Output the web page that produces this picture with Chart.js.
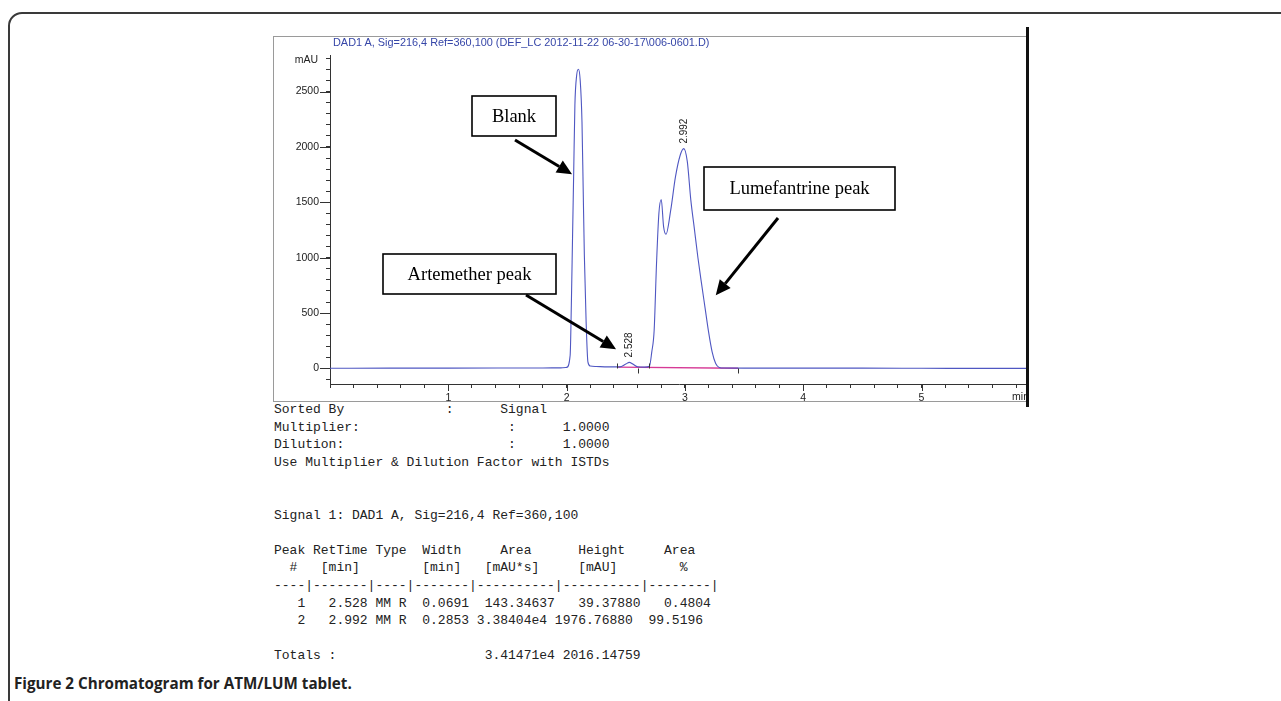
<!DOCTYPE html>
<html>
<head>
<meta charset="utf-8">
<title>Chromatogram for ATM/LUM tablet</title>
<script src="https://cdn.jsdelivr.net/npm/chart.js@4.4.1/dist/chart.umd.min.js"></script>
<style>
  html, body { margin: 0; padding: 0; background: #fff; }
  body { width: 1281px; height: 701px; position: relative; overflow: hidden; }
  #frame {
    position: absolute; left: 8px; top: 12px; width: 1300px; height: 720px;
    border: 2px solid #3a3a3a; border-radius: 14px;
  }
  #plotBox {
    position: absolute; left: 273px; top: 36px; width: 754px; height: 364px;
    border: 1px solid #9a9a9a; border-right: none;
  }
  #rightBar { position: absolute; left: 1026px; top: 27px; width: 3px; height: 380px; background: #111; }
  #plotTitle {
    position: absolute; left: 333px; top: 36px;
    font: 10.9px "Liberation Sans", Arial, sans-serif; color: #3646a8; white-space: nowrap;
  }
  #chromCanvas { position: absolute; left: 274px; top: 36px; }
  #report {
    position: absolute; left: 274px; top: 401px; margin: 0;
    font: 13px/17.6px "Liberation Mono", "Courier New", monospace; color: #222;
  }
  #caption {
    position: absolute; left: 14px; top: 673px;
    font: 700 15.2px "Open Sans", "Noto Sans", sans-serif; color: #222; white-space: nowrap;
  }
</style>
</head>
<body>
<div id="frame"></div>
<div id="plotBox"></div>
<canvas id="chromCanvas" width="754" height="365"></canvas>
<div id="plotTitle">DAD1 A, Sig=216,4 Ref=360,100 (DEF_LC 2012-11-22 06-30-17\006-0601.D)</div>
<div id="rightBar"></div>
<pre id="report">Sorted By             :      Signal
Multiplier:                   :      1.0000
Dilution:                     :      1.0000
Use Multiplier &amp; Dilution Factor with ISTDs


Signal 1: DAD1 A, Sig=216,4 Ref=360,100

Peak RetTime Type  Width     Area      Height     Area
  #   [min]        [min]   [mAU*s]     [mAU]        %
----|-------|----|-------|----------|----------|--------|
   1   2.528 MM R  0.0691  143.34637   39.37880   0.4804
   2   2.992 MM R  0.2853 3.38404e4 1976.76880  99.5196

Totals :                   3.41471e4 2016.14759</pre>
<div id="caption">Figure 2 Chromatogram for ATM/LUM tablet.</div>

<script>
// Сигнал детектора DAD1 A (время удерживания, мин / поглощение, mAU)
const retTime = [0, 0.5, 1.0, 1.5, 1.8, 1.95, 2.00, 2.03, 2.04, 2.05, 2.06, 2.07, 2.085, 2.10, 2.115,
                 2.13, 2.14, 2.15, 2.165, 2.18, 2.20, 2.25, 2.35, 2.45, 2.50, 2.53, 2.56, 2.60, 2.66,
                 2.70, 2.72, 2.74, 2.76, 2.78, 2.80, 2.82, 2.84, 2.88, 2.92, 2.96, 2.99, 3.02, 3.05,
                 3.08, 3.11, 3.14, 3.17, 3.20, 3.23, 3.26, 3.29, 3.33, 3.5, 4.0, 4.5, 5.0, 5.5, 5.9];
const absorbance = [2, 3, 3, 4, 5, 6, 10, 120, 571, 1176, 1775, 2376, 2647, 2701, 2600,
                    2226, 1624, 1022, 420, 60, 22, 18, 15, 15, 40, 55, 40, 15, 12,
                    20, 150, 345, 947, 1399, 1525, 1278, 1212, 1429, 1729, 1925, 1985, 1870, 1520,
                    1260, 1000, 770, 550, 330, 150, 45, 10, 4, 3, 3, 3, 2, 1, 1];

// Базовая линия интегрирования (розовая)
const baselineTime = [2.43, 3.45];
const baselineValue = [12, 2];
const integrationMarks = [2.43, 2.60, 2.70, 3.45];

// Подписи пиков
const peakTimes = [2.528, 2.992];
const peakHeights = [55, 1985];
const peakLabels = ['2.528', '2.992'];

// Рамки с пояснениями: прямоугольник в пикселях холста, острие стрелки в данных
const callouts = [
    { text: 'Blank', box: [198, 60, 84, 40], tail: [241, 104], tipTime: 2.046, tipValue: 1754 },
    { text: 'Artemether peak', box: [109, 218, 173, 40], tail: [252, 259], tipTime: 2.418, tipValue: 174 },
    { text: 'Lumefantrine peak', box: [430, 131, 191, 43], tail: [504, 182], tipTime: 3.261, tipValue: 661 }
];

const lineColor = '#4f57c2';

const chromPlugin = {
    id: 'chromPlugin',
    afterDraw(chart) {
        const { ctx, chartArea, scales: { x, y } } = chart;
        ctx.save();

        // Длинные засечки на основных делениях
        ctx.strokeStyle = '#333';
        ctx.lineWidth = 1;
        ctx.beginPath();
        for (let v = 0; v <= 2500; v += 500) {
            const py = Math.round(y.getPixelForValue(v)) + 0.5;
            ctx.moveTo(chartArea.left - 10, py);
            ctx.lineTo(chartArea.left, py);
        }
        for (let t = 1; t <= 5; t++) {
            const px = Math.round(x.getPixelForValue(t)) + 0.5;
            ctx.moveTo(px, chartArea.bottom);
            ctx.lineTo(px, chartArea.bottom + 7);
        }
        ctx.stroke();

        // Подписи осей
        ctx.fillStyle = '#222';
        ctx.font = '10.5px "Liberation Sans", Arial, sans-serif';
        ctx.textAlign = 'right';
        ctx.textBaseline = 'middle';
        ctx.fillText('mAU', chartArea.left - 12, chartArea.top + 5);
        ctx.fillText('min', chartArea.right + 1, chartArea.bottom + 13);

        // Метки интегрирования
        ctx.strokeStyle = '#333';
        ctx.beginPath();
        integrationMarks.forEach((t, i) => {
            const px = Math.round(x.getPixelForValue(t)) + 0.5;
            const py = y.getPixelForValue(0);
            const dir = i % 2 === 0 ? -1 : 1;
            ctx.moveTo(px, py);
            ctx.lineTo(px, py + dir * 5);
        });
        ctx.stroke();

        // Вертикальные подписи пиков
        ctx.fillStyle = '#222';
        ctx.font = '10px "Liberation Sans", Arial, sans-serif';
        ctx.textAlign = 'left';
        ctx.textBaseline = 'middle';
        peakTimes.forEach((t, i) => {
            const px = x.getPixelForValue(t);
            const py = y.getPixelForValue(peakHeights[i]) - 5;
            ctx.save();
            ctx.translate(px, py);
            ctx.rotate(-Math.PI / 2);
            ctx.fillText(peakLabels[i], 0, 0);
            ctx.restore();
        });

        // Рамки и стрелки
        callouts.forEach(c => {
            const [bx, by, bw, bh] = c.box;
            ctx.fillStyle = '#fff';
            ctx.fillRect(bx, by, bw, bh);
            ctx.strokeStyle = '#000';
            ctx.lineWidth = 1.6;
            ctx.strokeRect(bx, by, bw, bh);
            ctx.fillStyle = '#000';
            ctx.font = '18.5px "Liberation Serif", "Times New Roman", serif';
            ctx.textAlign = 'center';
            ctx.textBaseline = 'middle';
            ctx.fillText(c.text, bx + bw / 2, by + bh / 2 + 1);

            const tx = x.getPixelForValue(c.tipTime);
            const ty = y.getPixelForValue(c.tipValue);
            const [sx, sy] = c.tail;
            const ang = Math.atan2(ty - sy, tx - sx);
            const headLen = 15, headHalf = 7;
            const bxEnd = tx - Math.cos(ang) * headLen;
            const byEnd = ty - Math.sin(ang) * headLen;
            ctx.lineWidth = 3;
            ctx.beginPath();
            ctx.moveTo(sx, sy);
            ctx.lineTo(bxEnd, byEnd);
            ctx.stroke();
            ctx.beginPath();
            ctx.moveTo(tx, ty);
            ctx.lineTo(bxEnd + Math.sin(ang) * headHalf, byEnd - Math.cos(ang) * headHalf);
            ctx.lineTo(bxEnd - Math.sin(ang) * headHalf, byEnd + Math.cos(ang) * headHalf);
            ctx.closePath();
            ctx.fill();
        });

        ctx.restore();
    }
};

const ctx = document.getElementById('chromCanvas').getContext('2d');
const chromChart = new Chart(ctx, {
    type: 'line',
    data: {
        datasets: [{
            label: 'DAD1 A',
            data: retTime.map((t, i) => ({ x: t, y: absorbance[i] })),
            borderColor: lineColor,
            borderWidth: 1.1,
            pointRadius: 0,
            cubicInterpolationMode: 'monotone',
            fill: false
        }, {
            label: 'Baseline',
            data: baselineTime.map((t, i) => ({ x: t, y: baselineValue[i] })),
            borderColor: '#d63a96',
            borderWidth: 1.4,
            pointRadius: 0,
            fill: false
        }]
    },
    options: {
        responsive: false,
        animation: false,
        layout: { padding: { top: 19, left: 0, right: 0, bottom: 0 } },
        plugins: {
            legend: { display: false },
            tooltip: { enabled: false }
        },
        scales: {
            x: {
                type: 'linear',
                min: 0,
                max: 5.9,
                afterFit: s => { s.height = 17; },
                border: { display: true, color: '#333', width: 1 },
                grid: { drawOnChartArea: false, tickLength: 4, color: '#333' },
                ticks: {
                    stepSize: 0.2,
                    includeBounds: false,
                    autoSkip: false,
                    maxRotation: 0,
                    padding: 4,
                    color: '#222',
                    font: { family: '"Liberation Sans", Arial, sans-serif', size: 10.5 },
                    callback: function(value) {
                        const v = Math.round(value * 10) / 10;
                        return (v > 0 && v % 1 === 0) ? String(v) : '';
                    }
                }
            },
            y: {
                type: 'linear',
                min: -140,
                max: 2830,
                afterFit: s => { s.width = 56; },
                border: { display: true, color: '#333', width: 1 },
                grid: { drawOnChartArea: false, tickLength: 4, color: '#333' },
                ticks: {
                    stepSize: 100,
                    includeBounds: false,
                    autoSkip: false,
                    padding: 7,
                    color: '#222',
                    font: { family: '"Liberation Sans", Arial, sans-serif', size: 10.5 },
                    callback: function(value) {
                        return value % 500 === 0 ? String(value) : '';
                    }
                }
            }
        }
    },
    plugins: [chromPlugin]
});
</script>
</body>
</html>
